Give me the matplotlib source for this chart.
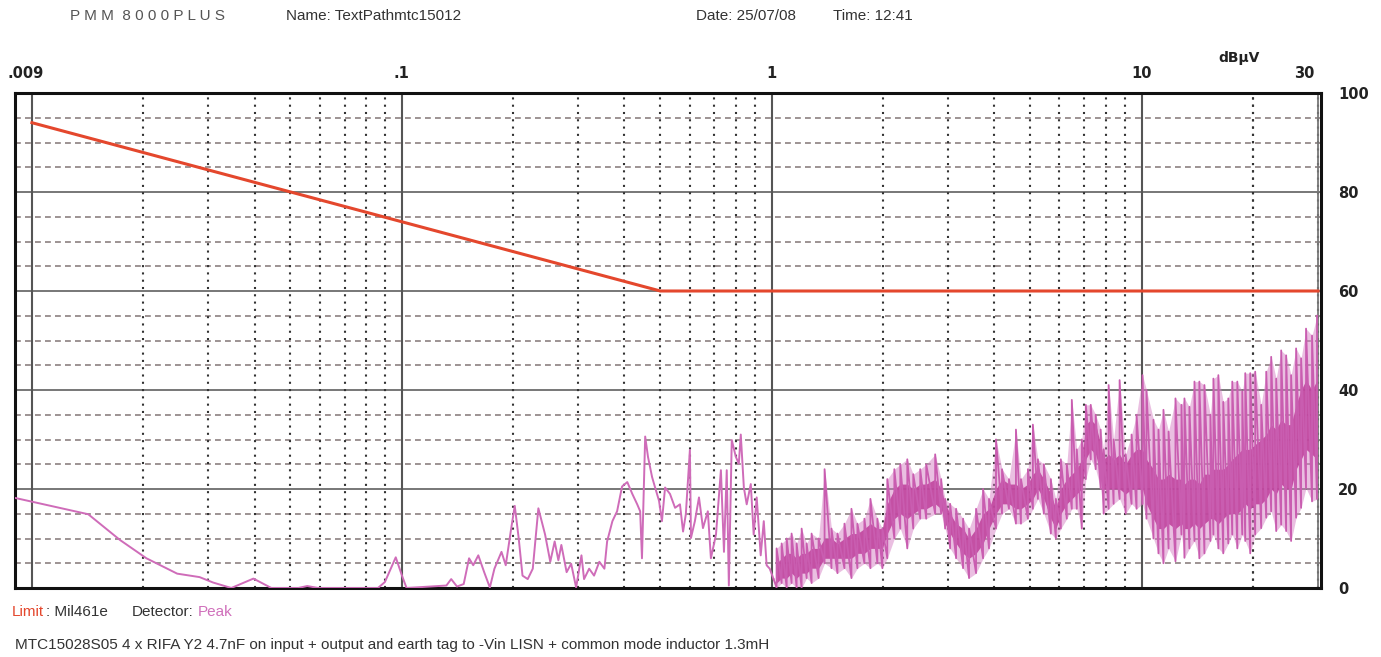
import matplotlib.pyplot as plt

plt.rcParams['font.family'] = ['Liberation Sans', 'DejaVu Sans']

# Mil461e limit (dBuV vs MHz)
lim_f = [0.01, 0.5, 30]
lim_db = [94, 60, 60]

# peak detector, low part of the sweep (MHz, dBuV)
f_low = [0.009, 0.0142, 0.0173, 0.0204, 0.0247, 0.0284, 0.0309, 0.0346, 0.0397, 0.0444,
         0.0525, 0.0555, 0.0594, 0.0862, 0.0900, 0.0963, 0.100, 0.103, 0.132, 0.136,
         0.141, 0.147, 0.152, 0.156, 0.161, 0.167, 0.173, 0.178, 0.186, 0.191,
         0.197, 0.202, 0.207, 0.212, 0.219, 0.226, 0.234, 0.244, 0.252, 0.259,
         0.265, 0.270, 0.279, 0.287, 0.296, 0.306, 0.311, 0.321, 0.331, 0.342,
         0.353, 0.359, 0.371, 0.382, 0.394, 0.407, 0.420, 0.433, 0.441, 0.446,
         0.455, 0.463, 0.475, 0.484, 0.496, 0.505, 0.515, 0.531, 0.548, 0.565,
         0.576, 0.586, 0.601, 0.605, 0.620, 0.636, 0.652, 0.672, 0.685, 0.707,
         0.729, 0.743, 0.756, 0.766, 0.780, 0.800, 0.815, 0.825, 0.841, 0.856,
         0.878, 0.894, 0.911, 0.934, 0.952, 0.969, 0.988, 1.012]
db_low = [18.2, 14.9, 9.7, 6.0, 2.9, 2.2, 1.1, 0.0, 1.9, 0.0,
          0.0, 0.4, 0.0, 0.0, 1.2, 6.2, 2.6, 0.0, 0.5, 1.8,
          0.3, 0.8, 6.0, 4.6, 6.6, 3.2, 0.1, 3.9, 7.3, 4.6,
          11.4, 16.6, 10.1, 2.5, 1.8, 3.9, 16.1, 10.8, 5.3, 9.4,
          5.6, 8.7, 3.2, 4.9, 0.1, 6.6, 1.8, 3.9, 2.5, 5.3,
          3.9, 9.4, 13.5, 15.5, 20.5, 21.4, 19.0, 16.9, 15.5, 6.0,
          30.6, 26.5, 22.4, 20.3, 17.6, 13.5, 20.3, 19.0, 16.2, 16.9,
          11.4, 14.9, 27.9, 10.1, 13.5, 18.3, 12.1, 15.5, 6.0, 10.8,
          23.8, 7.3, 23.8, 0.5, 29.9, 26.5, 25.1, 31.0, 20.3, 16.9,
          21.0, 10.8, 18.3, 6.6, 13.5, 4.6, 3.9, 1.8]

# high part of the sweep: min / max of each column, plus the dense core
f_hi = [1.031, 1.064, 1.098, 1.132, 1.168, 1.205, 1.243, 1.282, 1.339, 1.390,
        1.451, 1.506, 1.573, 1.643, 1.705, 1.781, 1.849, 1.931, 1.992, 2.054,
        2.146, 2.227, 2.326, 2.414, 2.521, 2.617, 2.767, 2.872, 2.944, 3.037,
        3.152, 3.292, 3.417, 3.569, 3.728, 3.869, 4.041, 4.195, 4.381, 4.575,
        4.720, 4.929, 5.084, 5.245, 5.444, 5.686, 5.865, 6.050, 6.279, 6.478,
        6.682, 6.893, 7.067, 7.288, 7.516, 7.753, 7.899, 8.148, 8.404, 8.723,
        9.055, 9.397, 9.694, 10.06, 10.31, 10.77, 11.11, 11.46, 11.83, 12.35,
        12.82, 13.06, 13.47, 13.90, 14.33, 14.79, 15.35, 15.64, 16.13, 16.63,
        17.16, 17.59, 18.15, 18.72, 19.07, 19.67, 20.29, 21.06, 21.73, 22.41,
        23.12, 23.85, 24.60, 25.37, 26.17, 27.00, 27.84, 28.90, 29.81]
db_min = [0, 1, 0, 1, 0, 0, 2, 1, 2, 5,
          4, 3, 4, 2, 4, 5, 4, 5, 4, 6,
          10, 12, 8, 12, 14, 14, 15, 15, 12, 8,
          6, 4, 2, 3, 6, 8, 12, 15, 16, 13,
          13, 14, 16, 18, 15, 11, 10, 12, 14, 16,
          16, 12, 22, 26, 24, 20, 15, 16, 17, 18,
          15, 17, 16, 17, 14, 10, 7, 5, 8, 5.4,
          10.8, 6.1, 8, 9.5, 6, 7, 9.5, 10.8, 8, 7,
          9, 10.8, 8, 10.8, 9.5, 7, 10.8, 12.1, 14.2, 15.5,
          11.5, 12.8, 11.5, 9.5, 14.2, 16.2, 20.2, 17.5, 18]
db_max = [8, 9, 10, 11, 9, 12, 9, 11, 10, 24,
          12, 11, 13, 16, 13, 14, 18, 14, 12, 22,
          24, 25, 26, 23, 24, 25, 27, 22, 18, 17,
          16, 14, 12, 16, 20, 18, 30, 24, 22, 32,
          22, 24, 33, 26, 25, 22, 18, 26, 25, 38,
          28, 30, 37, 37, 35, 32, 28, 41, 30, 42,
          27, 31, 35, 43, 40, 34, 32, 36, 31.6, 38.3,
          37, 38.3, 36.6, 41.7, 41.7, 41, 35, 42.3, 43, 37.6,
          38.3, 41.7, 41.7, 39.7, 43.4, 43.4, 43.7, 37, 43.7, 46.7,
          42.3, 48, 47, 43, 48.4, 46.4, 52.4, 51, 55]
core_min = [1, 2, 2, 3, 2, 3, 3, 4, 4, 6,
            6, 6, 6, 6, 7, 7, 8, 8, 8, 11,
            14, 15, 14, 15, 16, 16, 17, 16, 13, 11,
            9, 7, 6, 7, 9, 12, 15, 17, 17, 16,
            16, 17, 18, 20, 18, 14, 12, 15, 17, 18,
            19, 20, 26, 28, 27, 23, 20, 20, 20, 20,
            19, 20, 20, 20, 17, 14, 12, 12, 13, 12,
            13, 12, 12, 13, 12, 13, 14, 14, 13, 14,
            15, 15, 15, 16, 17, 16, 17, 17, 18, 20,
            19, 21, 20, 20, 24, 26, 28, 27, 26]
core_max = [5, 6, 7, 7, 6, 7, 7, 8, 8, 10,
            10, 9, 10, 11, 11, 12, 13, 12, 12, 17,
            20, 21, 21, 20, 21, 21, 22, 20, 17, 15,
            13, 12, 10, 12, 15, 16, 20, 22, 21, 21,
            20, 21, 23, 24, 22, 19, 16, 20, 22, 23,
            24, 26, 33, 34, 33, 29, 26, 27, 26, 27,
            25, 27, 28, 28, 26, 24, 22, 22, 23, 22,
            22, 21, 22, 22, 21, 23, 23, 24, 24, 24,
            25, 26, 27, 28, 28, 28, 29, 30, 31, 33,
            32, 34, 33, 33, 37, 40, 42, 40, 42]

# grid positions
decades = [0.01, 0.1, 1, 10]
minor_f = [m * d for d in decades for m in range(2, 10)] + [20]
solid_db = [20, 40, 60, 80]
dash_db = [v for v in range(5, 100, 5) if v % 20 != 0]

W, H = 1381, 657
fig = plt.figure(figsize=(W / 100, H / 100), dpi=100)
ax = fig.add_axes([15 / W, 1 - 588 / H, (1321 - 15) / W, (588 - 93) / H])
ax.set_xscale('log')
ax.set_xlim(0.009, 30.56)
ax.set_ylim(0, 100)

for v in dash_db:
    ax.axhline(v, color='#8c8080', lw=1.2, ls=(0, (3.5, 2.5)), zorder=1)
for v in solid_db:
    ax.axhline(v, color='#777777', lw=1.4, zorder=1)
for f in minor_f:
    ax.axvline(f, color='#333333', lw=1.5, ls=(0, (1, 2.5)), zorder=1)
for f in decades:
    ax.axvline(f, color='#555555', lw=1.5, zorder=1)
ax.axvline(30, color='#777777', lw=1.3, zorder=1)

# limit
ax.plot(lim_f, lim_db, color='#e4472d', lw=2.2, zorder=4)

# measured trace
ax.plot(f_low, db_low, color='#cf6cb9', lw=1.4, zorder=3)
ax.fill_between(f_hi, db_min, db_max, color='#d680c4', alpha=0.5, lw=0, zorder=2)
ax.fill_between(f_hi, core_min, core_max, color='#c0449e', alpha=0.9, lw=0, zorder=3)
zx, zy = [f_low[-1]], [db_low[-1]]
for f, lo, hi in zip(f_hi, db_min, db_max):
    zx += [f, f]
    zy += [lo, hi]
ax.plot(zx, zy, color='#c95db0', lw=1.3, zorder=3)

for s in ax.spines.values():
    s.set_linewidth(2.2)
    s.set_color('#111111')

num_font = dict(family='DejaVu Sans', fontweight='bold', color='#222222')

ax.tick_params(axis='x', which='both', bottom=False, top=False, labelbottom=False)
ax.set_yticks([0, 20, 40, 60, 80, 100])
ax.tick_params(axis='y', which='both', left=False, right=False,
               labelleft=False, labelright=True, pad=9)
for lb in ax.get_yticklabels():
    lb.set_fontfamily('DejaVu Sans')
    lb.set_fontweight('bold')
    lb.set_fontsize(10.5)
    lb.set_color('#222222')

# frequency labels above the frame
top = ax.get_xaxis_transform()
for f, txt in [(0.0096, '.009'), (0.1, '.1'), (1, '1'), (10, '10'), (27.5, '30')]:
    ax.text(f, 1.040, txt, transform=top, ha='center', va='center',
            fontsize=10.5, **num_font)
ax.text(18.4, 1.071, 'dBµV', transform=top, ha='center', va='center',
        fontsize=10, **num_font)

# header
hy = 1 - 16 / H
fig.text(70 / W, hy, 'P M M  8 0 0 0 P L U S', fontsize=11, color='#555555', va='center')
fig.text(286 / W, hy, 'Name: TextPathmtc15012', fontsize=11, color='#333333', va='center')
fig.text(696 / W, hy, 'Date: 25/07/08', fontsize=11, color='#333333', va='center')
fig.text(833 / W, hy, 'Time: 12:41', fontsize=11, color='#333333', va='center')

# footer
fy = 1 - 612 / H
fig.text(12 / W, fy, 'Limit', fontsize=11, color='#e4472d', va='center')
fig.text(46 / W, fy, ': Mil461e', fontsize=11, color='#333333', va='center')
fig.text(132 / W, fy, 'Detector:', fontsize=11, color='#333333', va='center')
fig.text(198 / W, fy, 'Peak', fontsize=11, color='#d070bb', va='center')
fig.text(15 / W, 1 - 645 / H,
         'MTC15028S05 4 x RIFA Y2 4.7nF on input + output and earth tag to -Vin LISN'
         ' + common mode inductor 1.3mH', fontsize=11, color='#333333', va='center')

fig.savefig('out.png', dpi=100, facecolor='white')
